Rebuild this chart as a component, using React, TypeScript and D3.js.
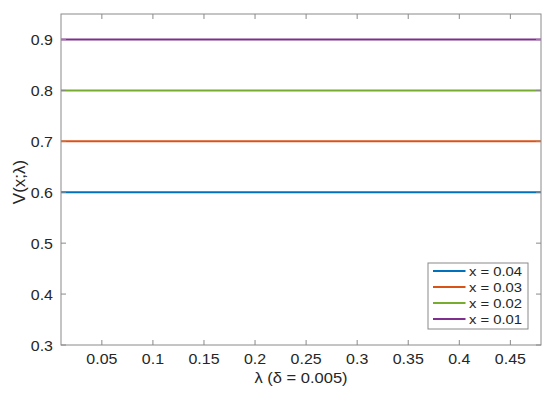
import * as d3 from "d3";
import { useEffect, useRef } from "react";

const X_VALUES = [0.01, 0.48];
const SERIES_NAMES = ["x = 0.04", "x = 0.03", "x = 0.02", "x = 0.01"];
const SERIES_LEVELS = [0.6, 0.7, 0.8, 0.9];
const SERIES_COLORS = ["#0072BD", "#D95319", "#77AC30", "#7E2F8E"];
const X_TICKS = [0.05, 0.1, 0.15, 0.2, 0.25, 0.3, 0.35, 0.4, 0.45];
const Y_TICKS = [0.3, 0.4, 0.5, 0.6, 0.7, 0.8, 0.9];

const W = 550;
const H = 393;
const FONT = "'Liberation Sans', Arial, Helvetica, sans-serif";
const STRETCH = 1.14; // the reference's text is a bit wider than it is tall

export default function App() {
  const svgRef = useRef<SVGSVGElement>(null);

  useEffect(() => {
    const svg = d3.select(svgRef.current);
    svg.selectAll("*").remove();

    const m = { top: 14, right: 9, bottom: 48, left: 61 };
    const x = d3.scaleLinear().domain([0.01, 0.48]).range([m.left, W - m.right]);
    const y = d3.scaleLinear().domain([0.3, 0.95]).range([H - m.bottom, m.top]);

    svg.append("rect").attr("width", W).attr("height", H).attr("fill", "#fff");

    const axisColor = "#8a8a8a";
    const textColor = "#262626";
    const tickLen = 5;

    const label = (parent: any, tx: number, ty: number, txt: string, size: number, anchor: string) =>
      parent.append("text")
        .attr("transform", `translate(${tx},${ty}) scale(${STRETCH},1)`)
        .attr("text-anchor", anchor)
        .style("font-family", FONT).style("font-size", `${size}px`)
        .style("fill", textColor)
        .text(txt);

    // ── Lines ──
    const line = d3.line<[number, number]>().x((d) => x(d[0])).y((d) => y(d[1]));
    SERIES_LEVELS.forEach((lv, i) => {
      svg.append("path")
        .datum(X_VALUES.map((v) => [v, lv] as [number, number]))
        .attr("fill", "none")
        .attr("stroke", SERIES_COLORS[i])
        .attr("stroke-width", 2)
        .attr("d", line);
    });

    // ── Box ──
    svg.append("rect")
      .attr("x", m.left).attr("y", m.top)
      .attr("width", W - m.right - m.left)
      .attr("height", H - m.bottom - m.top)
      .attr("fill", "none")
      .attr("stroke", axisColor)
      .attr("stroke-width", 1);

    // ── Ticks ──
    X_TICKS.forEach((t) => {
      svg.append("line")
        .attr("x1", x(t)).attr("x2", x(t))
        .attr("y1", H - m.bottom).attr("y2", H - m.bottom - tickLen)
        .attr("stroke", axisColor);
      svg.append("line")
        .attr("x1", x(t)).attr("x2", x(t))
        .attr("y1", m.top).attr("y2", m.top + tickLen)
        .attr("stroke", axisColor);
      label(svg, x(t), 364, String(t), 14, "middle");
    });

    Y_TICKS.forEach((t) => {
      svg.append("line")
        .attr("x1", m.left).attr("x2", m.left + tickLen)
        .attr("y1", y(t)).attr("y2", y(t))
        .attr("stroke", axisColor);
      svg.append("line")
        .attr("x1", W - m.right).attr("x2", W - m.right - tickLen)
        .attr("y1", y(t)).attr("y2", y(t))
        .attr("stroke", axisColor);
      label(svg, 53, y(t) + 5.5, String(t), 14, "end");
    });

    // ── Axis labels ──
    label(svg, 301, 383, "λ (δ = 0.005)", 14.5, "middle");

    svg.append("text")
      .attr("transform", "translate(25,182) rotate(-90)")
      .attr("text-anchor", "middle")
      .style("font-family", FONT).style("font-size", "17px")
      .style("fill", textColor)
      .text("V(x;λ)");

    // ── Legend ──
    const lg = svg.append("g").attr("transform", "translate(428,263)");
    lg.append("rect")
      .attr("width", 100).attr("height", 66)
      .attr("fill", "#fff")
      .attr("stroke", axisColor);
    SERIES_NAMES.forEach((name, i) => {
      const yy = 8 + i * 16;
      lg.append("line")
        .attr("x1", 5).attr("x2", 37.5)
        .attr("y1", yy).attr("y2", yy)
        .attr("stroke", SERIES_COLORS[i])
        .attr("stroke-width", 2);
      label(lg, 41, yy + 5, name, 13, "start");
    });
  }, []);

  return (
    <svg
      ref={svgRef}
      width={W}
      height={H}
      style={{ position: "absolute", left: 0, top: 0, display: "block" }}
    />
  );
}
